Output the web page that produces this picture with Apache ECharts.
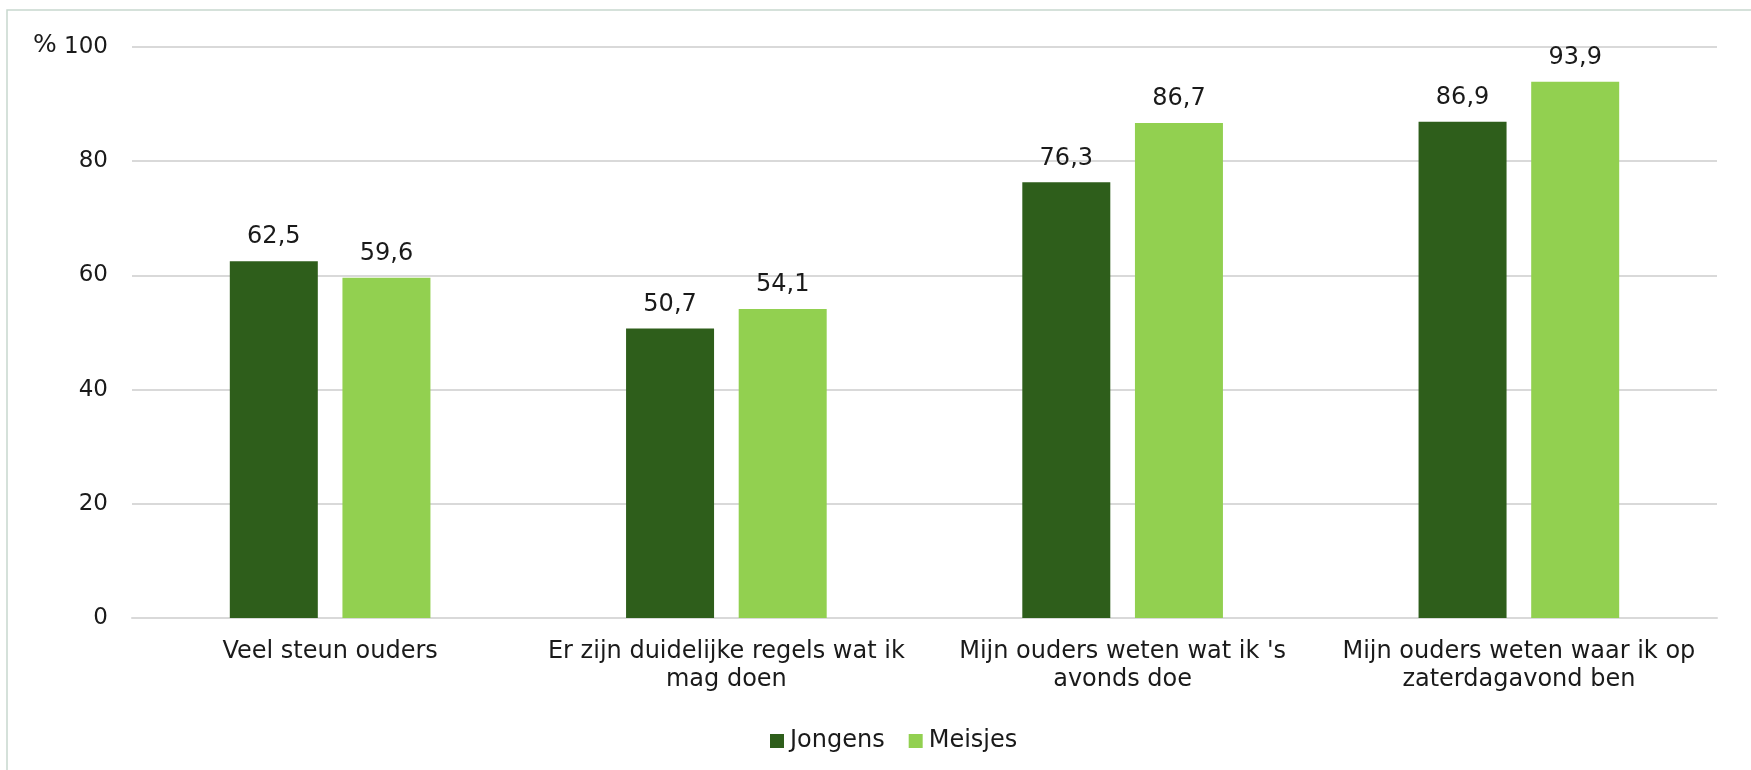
<!DOCTYPE html>
<html>
<head>
<meta charset="utf-8">
<script src="https://cdn.jsdelivr.net/npm/echarts@6/dist/echarts.min.js"></script>
<style>
html,body{margin:0;padding:0;background:#fff;}
#c{width:1751px;height:770px;}
</style>
</head>
<body>
<div id="c"></div>
<script>
const categories = [
  "Veel steun ouders",
  "Er zijn duidelijke regels wat ik\nmag doen",
  "Mijn ouders weten wat ik 's\navonds doe",
  "Mijn ouders weten waar ik op\nzaterdagavond ben"
];
const jongens = [62.5, 50.7, 76.3, 86.9];
const meisjes = [59.6, 54.1, 86.7, 93.9];
const yTicks = [0, 20, 40, 60, 80, 100];

const font = "DejaVu Sans, Verdana, sans-serif";
const chart = echarts.init(document.getElementById('c'));
const fmt = p => p.value.toFixed(1).replace('.', ',');
chart.setOption({
  animation: false,
  textStyle: { fontFamily: font },
  graphic: [
    { type: 'rect', shape: { x: 7, y: 10, width: 1800, height: 800 },
      style: { fill: 'none', stroke: '#c8d8ce', lineWidth: 1.5 } },
    { type: 'text', left: 33, top: 33,
      style: { text: '%', fontSize: 25, fontFamily: font, fill: '#1a1a1a' } }
  ],
  legend: {
    left: 765, top: 724,
    itemWidth: 14, itemHeight: 14, itemGap: 24,
    icon: 'rect',
    textStyle: { fontSize: 24, color: '#1a1a1a', fontFamily: font, padding: [0, 0, 0, 1] },
    data: ['Jongens', 'Meisjes']
  },
  grid: { left: 132, right: 34, top: 47, bottom: 152, containLabel: false },
  xAxis: {
    type: 'category',
    data: categories,
    axisLine: { show: true, lineStyle: { color: '#d9d9d9', width: 2 } },
    axisTick: { show: false },
    axisLabel: { fontSize: 24, color: '#1a1a1a', lineHeight: 28, margin: 20, fontFamily: font, interval: 0 }
  },
  yAxis: {
    type: 'value',
    min: 0, max: 100, interval: 20,
    axisLine: { show: false },
    axisTick: { show: false },
    splitLine: { lineStyle: { color: '#d9d9d9', width: 2 } },
    axisLabel: { fontSize: 23, color: '#1a1a1a', margin: 24, fontFamily: font,
      formatter: v => yTicks.includes(v) ? String(v) : '' }
  },
  series: [
    { name: 'Jongens', type: 'bar', data: jongens, barWidth: 88, barGap: '28%',
      itemStyle: { color: '#2e5e1b' },
      label: { show: true, position: 'top', distance: 12, fontSize: 24, color: '#1a1a1a', fontFamily: font, formatter: fmt } },
    { name: 'Meisjes', type: 'bar', data: meisjes, barWidth: 88,
      itemStyle: { color: '#92d050' },
      label: { show: true, position: 'top', distance: 12, fontSize: 24, color: '#1a1a1a', fontFamily: font, formatter: fmt } }
  ]
});
</script>
</body>
</html>
